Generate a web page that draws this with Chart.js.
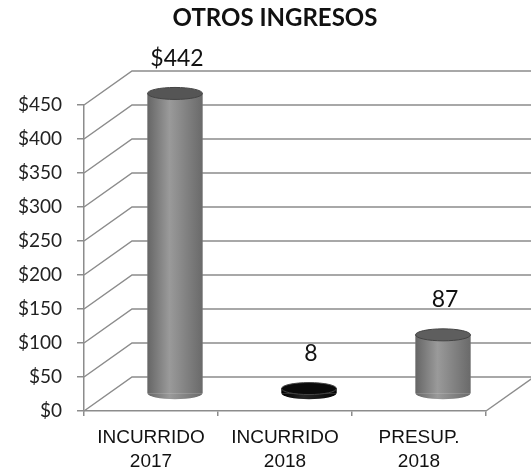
<!DOCTYPE html>
<html>
<head>
<meta charset="utf-8">
<title>Otros ingresos</title>
<script src="https://cdn.jsdelivr.net/npm/chart.js@4"></script>
<style>
  body { margin: 0; background: #fff; }
  #wrap { width: 531px; height: 469px; position: relative; }
</style>
</head>
<body>
<div id="wrap"><canvas id="chart"></canvas></div>
<script>
// Chart data
const chartTitle = 'OTROS INGRESOS';
const categories = [['INCURRIDO', '2017'], ['INCURRIDO', '2018'], ['PRESUP.', '2018']];
const values = [442, 8, 87];
const valueLabels = ['$442', '8', '87'];
const yTickLabels = ['$0', '$50', '$100', '$150', '$200', '$250', '$300', '$350', '$400', '$450'];

// 3D look: depth of the back wall and shading of each cylinder
const DX = 48;
const DY = -34;
const ELLIPSE_RY = 6;
const bodyColors = ['#8a8a8a', '#111111', '#8a8a8a'];
const bodyShades = [
    ['#666666', '#9a9a9a', '#6a6a6a'],
    ['#000000', '#262626', '#050505'],
    ['#666666', '#9a9a9a', '#6a6a6a']
];
const topColors = ['#555555', '#0a0a0a', '#5e5e5e'];
const gridColor = '#8c8c8c';

const walls3d = {
    id: 'walls3d',
    beforeDatasetsDraw(chart) {
        const { ctx, chartArea, scales } = chart;
        const y = scales.y;
        ctx.save();
        ctx.strokeStyle = gridColor;
        ctx.lineWidth = 1.5;
        // back wall gridlines and the oblique lines of the side wall
        y.ticks.forEach(t => {
            const py = y.getPixelForValue(t.value);
            ctx.beginPath();
            ctx.moveTo(chartArea.left, py);
            ctx.lineTo(chartArea.left + DX, py + DY);
            ctx.lineTo(chart.width, py + DY);
            ctx.stroke();
        });
        // right edge of the floor
        const p0 = y.getPixelForValue(0);
        ctx.beginPath();
        ctx.moveTo(chartArea.right, p0);
        ctx.lineTo(chartArea.right + DX, p0 + DY);
        ctx.stroke();
        ctx.restore();

        // bars sit half way into the depth
        ctx.save();
        ctx.translate(DX / 2, DY / 2);
    },
    afterDatasetsDraw(chart) {
        const { ctx } = chart;
        const meta = chart.getDatasetMeta(0);
        meta.data.forEach((bar, i) => {
            const { x, y, base, width } = bar.getProps(['x', 'y', 'base', 'width'], true);
            const left = x - width / 2;
            const rx = width / 2;
            const shade = bodyShades[i];
            const grad = ctx.createLinearGradient(left, 0, left + width, 0);
            grad.addColorStop(0, shade[0]);
            grad.addColorStop(0.4, shade[1]);
            grad.addColorStop(1, shade[2]);
            ctx.fillStyle = grad;
            ctx.fillRect(left, y, width, base - y);
            ctx.beginPath();
            ctx.ellipse(x, base, rx, ELLIPSE_RY, 0, 0, Math.PI);
            ctx.fill();
            // top cap
            ctx.beginPath();
            ctx.ellipse(x, y, rx, ELLIPSE_RY, 0, 0, Math.PI * 2);
            ctx.fillStyle = topColors[i];
            ctx.fill();
            ctx.strokeStyle = '#444';
            ctx.lineWidth = 1;
            ctx.stroke();
        });
        ctx.restore();

        // value labels above the cylinders
        ctx.save();
        ctx.fillStyle = '#111';
        ctx.font = '23px Lato';
        ctx.textAlign = 'center';
        ctx.textBaseline = 'middle';
        meta.data.forEach((bar, i) => {
            ctx.fillText(valueLabels[i], bar.x + DX / 2 + 2, bar.y + DY / 2 - 35);
        });
        ctx.restore();
    },
    afterDraw(chart) {
        // title, a bit left of the plot centre like the original
        const { ctx, chartArea } = chart;
        ctx.save();
        ctx.fillStyle = '#111';
        ctx.font = 'bold 24px Lato';
        ctx.textAlign = 'center';
        ctx.textBaseline = 'middle';
        ctx.fillText(chartTitle, (chartArea.left + chartArea.right) / 2 - 10, 18);
        ctx.restore();
    }
};

const ctx = document.getElementById('chart').getContext('2d');
new Chart(ctx, {
    type: 'bar',
    data: {
        labels: categories,
        datasets: [{
            data: values,
            backgroundColor: bodyColors,
            borderWidth: 0,
            barPercentage: 0.41,
            categoryPercentage: 1,
            clip: false
        }]
    },
    options: {
        responsive: true,
        maintainAspectRatio: false,
        animation: false,
        layout: {
            padding: { left: 0, right: 45, top: 105, bottom: 0 }
        },
        plugins: {
            legend: { display: false },
            tooltip: { enabled: false },
            title: { display: false }
        },
        scales: {
            x: {
                afterFit: scale => { scale.height = 58; },
                grid: {
                    display: true,
                    drawOnChartArea: false,
                    tickLength: 5,
                    color: gridColor,
                    lineWidth: 1.5
                },
                border: { display: true, color: gridColor, width: 1.5 },
                ticks: {
                    color: '#111',
                    font: { family: 'Liberation Sans', size: 19, lineHeight: 1.25 },
                    padding: 10,
                    maxRotation: 0,
                    autoSkip: false
                }
            },
            y: {
                min: 0,
                max: 450,
                afterFit: scale => { scale.width = 84; },
                grid: {
                    drawOnChartArea: false,
                    tickLength: 7,
                    color: gridColor,
                    lineWidth: 1.5
                },
                border: { display: true, color: gridColor, width: 1.5 },
                ticks: {
                    stepSize: 50,
                    color: '#222',
                    font: { family: 'Lato', size: 19 },
                    padding: 15,
                    callback: (value, index) => yTickLabels[index]
                }
            }
        }
    },
    plugins: [walls3d]
});
</script>
</body>
</html>
